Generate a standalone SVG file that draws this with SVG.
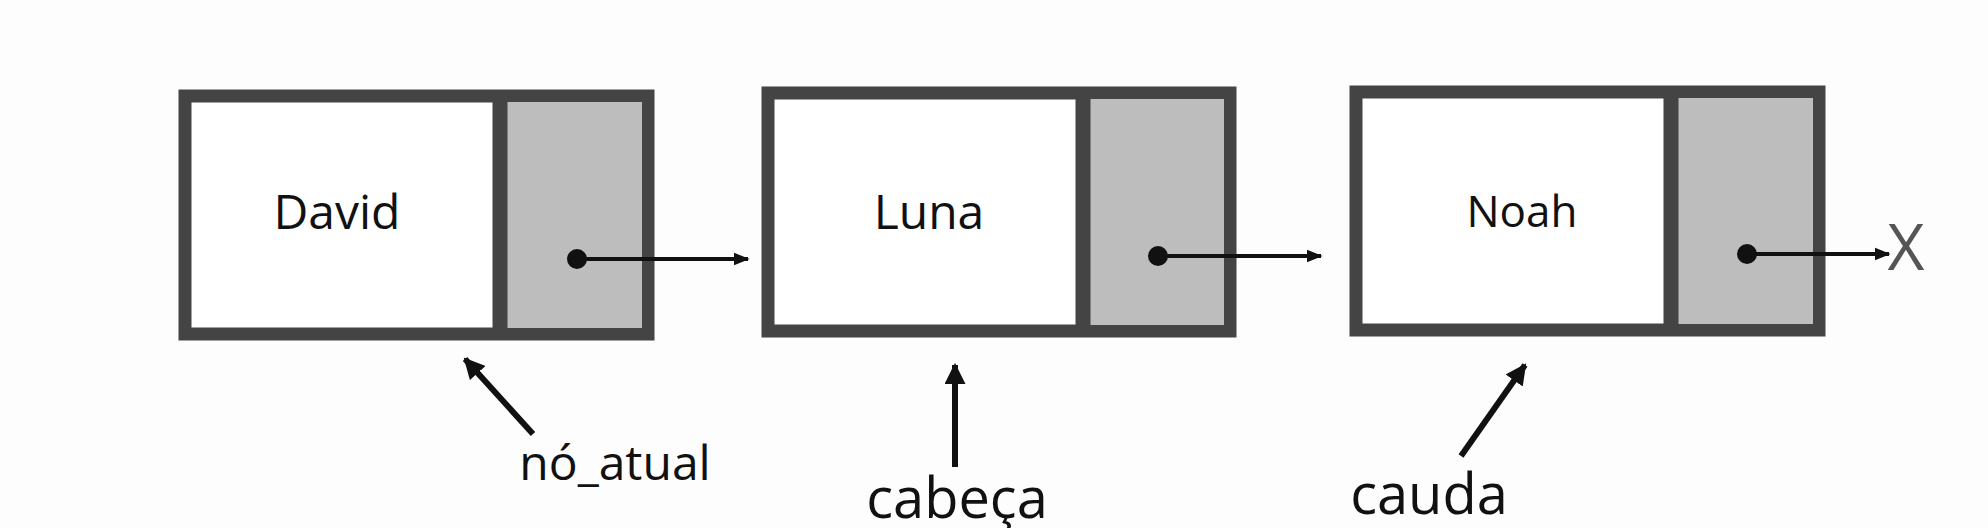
<svg xmlns="http://www.w3.org/2000/svg" width="1988" height="528" viewBox="0 0 1988 528">
<defs>
<style>
.box{fill:#fff;stroke:#444;stroke-width:13}
.ptr{fill:#bdbdbd}
.div{stroke:#444;stroke-width:15}
.lbl{font-family:"Open Sans","Noto Sans",sans-serif;fill:#111;text-anchor:middle}
.ln{stroke:#111;stroke-width:4;fill:none}
.pl{stroke:#111;stroke-width:6;fill:none}
</style>
<marker id="ah" viewBox="0 0 10 10" refX="9" refY="5" markerWidth="4" markerHeight="4" orient="auto"><path d="M0,1 L10,5 L0,9 z" fill="#111"/></marker>
<marker id="ah2" viewBox="0 0 10 10" refX="9" refY="5" markerWidth="3.5" markerHeight="3.5" orient="auto"><path d="M0,0 L10,5 L0,10 z" fill="#111"/></marker>
</defs>
<rect width="1988" height="528" fill="#fdfdfd"/>
<g id="node-david">
<rect class="box" x="185" y="96" width="463" height="238"/>
<rect class="ptr" x="507" y="102" width="135" height="226"/>
<line class="div" x1="500" y1="96" x2="500" y2="334"/>
<text class="lbl" x="337" y="229" font-size="48">David</text>
</g>
<g id="node-luna">
<rect class="box" x="768" y="93" width="462" height="238"/>
<rect class="ptr" x="1090" y="99" width="134" height="226"/>
<line class="div" x1="1083" y1="93" x2="1083" y2="331"/>
<text class="lbl" x="929" y="229" font-size="48">Luna</text>
</g>
<g id="node-noah">
<rect class="box" x="1356" y="92" width="463" height="238"/>
<rect class="ptr" x="1678" y="98" width="135" height="226"/>
<line class="div" x1="1671" y1="92" x2="1671" y2="330"/>
<text class="lbl" x="1522" y="227" font-size="44">Noah</text>
</g>
<g id="null-x"><text x="1906" y="270" font-family="Open Sans, sans-serif" font-size="64" fill="#555" text-anchor="middle">X</text></g>
<g id="label-atual"><text class="lbl" x="615" y="480" font-size="48">nó_atual</text></g>
<g id="label-cabeca"><text class="lbl" x="957" y="518" font-size="56">cabeça</text></g>
<g id="label-cauda"><text class="lbl" x="1429" y="514" font-size="56">cauda</text></g>
<g id="connectors">
<circle cx="577" cy="259" r="10" fill="#111"/>
<line class="ln" x1="577" y1="259" x2="748" y2="259" marker-end="url(#ah)"/>
<circle cx="1158" cy="256" r="10" fill="#111"/>
<line class="ln" x1="1158" y1="256" x2="1321" y2="256" marker-end="url(#ah)"/>
<circle cx="1747" cy="254" r="10" fill="#111"/>
<line class="ln" x1="1747" y1="254" x2="1889" y2="254" marker-end="url(#ah)"/>
<line class="pl" x1="533" y1="434" x2="465" y2="359" marker-end="url(#ah2)"/>
<line class="pl" x1="955" y1="467" x2="955" y2="365" marker-end="url(#ah2)"/>
<line class="pl" x1="1461" y1="456" x2="1525" y2="365" marker-end="url(#ah2)"/>
</g>
</svg>
